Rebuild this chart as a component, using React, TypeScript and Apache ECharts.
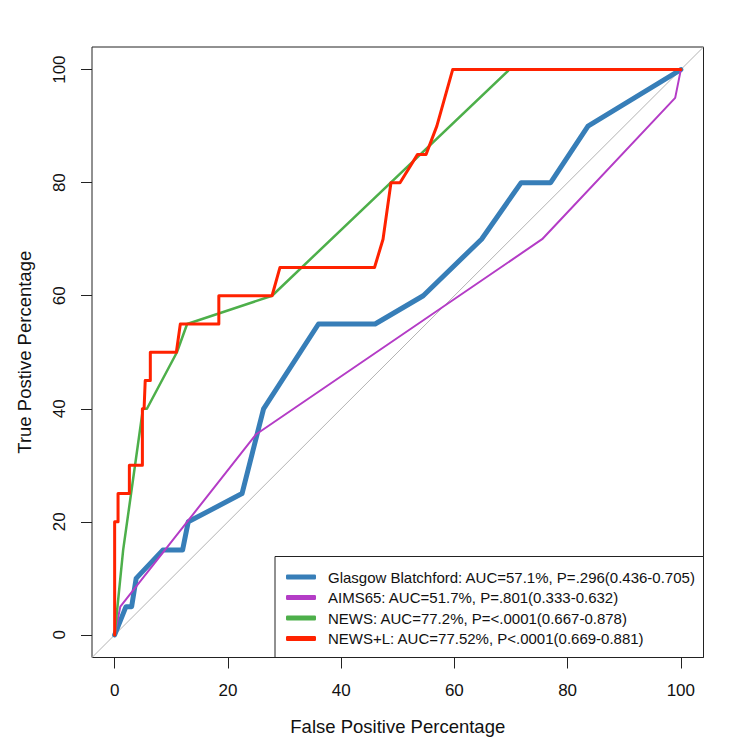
import React, { useEffect, useRef } from "react";
import * as echarts from "echarts";

const tickValues = [0, 20, 40, 60, 80, 100];

const seriesNames = [
  "Glasgow Blatchford: AUC=57.1%, P=.296(0.436-0.705)",
  "AIMS65: AUC=51.7%, P=.801(0.333-0.632)",
  "NEWS: AUC=77.2%, P=<.0001(0.667-0.878)",
  "NEWS+L: AUC=77.52%, P<.0001(0.669-0.881)",
];

const glasgowPoints = [
  [0, 0], [2, 5], [3, 5], [3.8, 10], [8.5, 15], [12, 15], [13, 20], [22.5, 25],
  [26.3, 40], [36, 55], [46, 55], [54.5, 60], [64.8, 70], [71.8, 80], [77, 80],
  [83.6, 90], [100, 100],
];

const aimsPoints = [
  [0, 0], [1, 5], [25, 35.5], [75.5, 70], [99, 95], [100, 100],
];

const newsPoints = [
  [0, 0], [1.5, 15], [5, 40], [5.7, 40], [11, 50], [12.8, 55], [27.8, 60],
  [69.7, 100], [100, 100],
];

const newsLPoints = [
  [0, 0], [0, 20], [0.6, 20], [0.6, 25], [2.6, 25], [2.6, 30], [4.9, 30],
  [4.9, 40], [5.2, 40], [5.4, 45], [6.3, 45], [6.3, 50], [10.9, 50], [11.6, 55],
  [18.4, 55], [18.4, 60], [27.8, 60], [29.2, 65], [45.9, 65], [47.4, 70],
  [48.8, 80], [50.4, 80], [53.5, 85], [55, 85], [56.9, 90], [59.7, 100],
  [100, 100],
];

const diagonalPoints = [[-4, -4], [104, 104]];

const colors = ["#377eb8", "#b43cc6", "#4daf4a", "#ff2200"];
const widths = [5, 2, 2.5, 3];

const FONT = "'Liberation Sans', Arial, Helvetica, sans-serif";

export default function App() {
  const ref = useRef<HTMLDivElement>(null);

  useEffect(() => {
    if (!ref.current) return;
    const chart = echarts.init(ref.current, undefined, { renderer: "svg" });
    const dataSets = [glasgowPoints, aimsPoints, newsPoints, newsLPoints];

    const axisCommon = {
      type: "value" as const,
      min: -4,
      max: 104,
      splitLine: { show: false },
      axisLine: { show: false, onZero: false },
      axisTick: {
        show: true,
        inside: false,
        length: 11,
        customValues: tickValues,
        lineStyle: { color: "#222", width: 1 },
      },
      nameLocation: "middle" as const,
      nameTextStyle: { fontFamily: FONT, fontSize: 18.5, color: "#111" },
    };

    chart.setOption({
      animation: false,
      backgroundColor: "#fff",
      grid: {
        left: 92,
        right: 46.5,
        top: 47,
        bottom: 92.5,
        show: true,
        borderColor: "#222",
        borderWidth: 1,
        backgroundColor: "transparent",
      },
      xAxis: {
        ...axisCommon,
        position: "bottom",
        name: "False Positive Percentage",
        nameGap: 59,
        axisLabel: {
          customValues: tickValues,
          margin: 24,
          fontFamily: FONT,
          fontSize: 17,
          color: "#111",
        },
      },
      yAxis: {
        ...axisCommon,
        position: "left",
        name: "True Postive Percentage",
        nameGap: 58,
        nameRotate: 90,
        axisLabel: {
          customValues: tickValues,
          rotate: 90,
          margin: 24,
          fontFamily: FONT,
          fontSize: 17,
          color: "#111",
        },
      },
      legend: {
        show: true,
        data: seriesNames,
        orient: "vertical",
        left: 276,
        top: 557,
        padding: [12, 6, 10, 10],
        itemGap: 4.5,
        itemWidth: 30,
        itemHeight: 5,
        icon: "roundRect",
        selectedMode: false,
        textStyle: {
          fontFamily: FONT,
          fontSize: 15,
          color: "#111",
          lineHeight: 16,
          padding: [0, 0, 0, 7],
        },
      },
      graphic: [
        {
          type: "rect",
          z: 1,
          shape: { x: 275, y: 556.5, width: 428.5, height: 101 },
          style: { fill: "#fff", stroke: "#222", lineWidth: 1 },
          silent: true,
        },
      ],
      series: [
        {
          type: "line",
          name: "diagonal",
          data: diagonalPoints,
          showSymbol: false,
          silent: true,
          lineStyle: { color: "#b3b3b3", width: 1 },
          z: 1,
        },
        ...dataSets.map((d, i) => ({
          type: "line",
          name: seriesNames[i],
          data: d,
          showSymbol: false,
          symbol: "none",
          color: colors[i],
          lineStyle: {
            color: colors[i],
            width: widths[i],
            cap: "round",
            join: "round",
          },
          z: 2 + i,
        })),
      ],
    });

    return () => chart.dispose();
  }, []);

  return (
    <div
      ref={ref}
      style={{ position: "fixed", left: 0, top: 0, width: 750, height: 750 }}
    />
  );
}
